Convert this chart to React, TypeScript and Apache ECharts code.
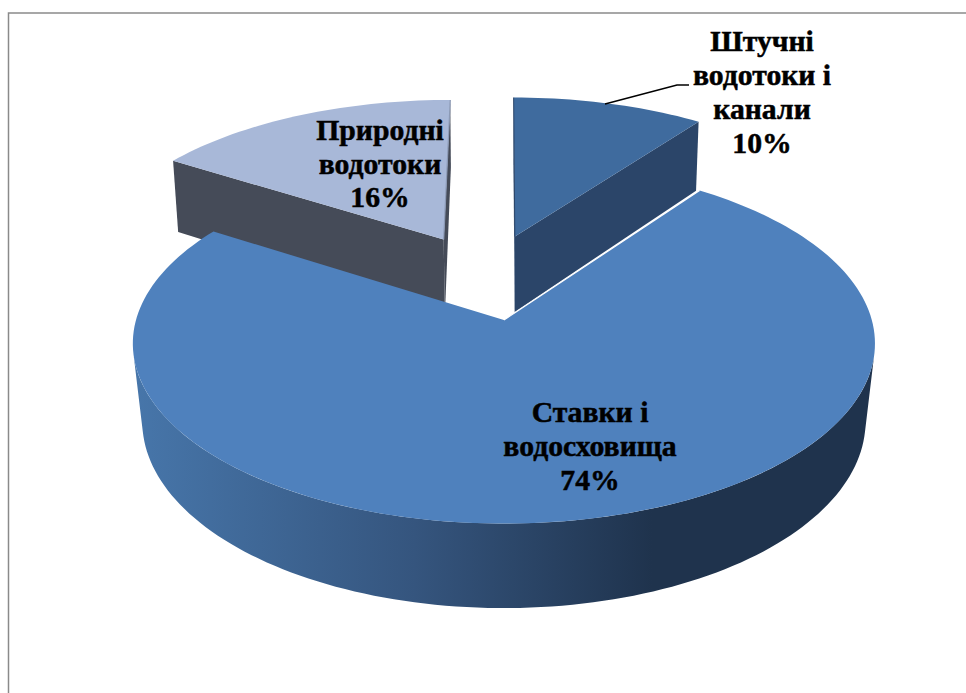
import React, { useEffect, useRef } from "react";
import * as echarts from "echarts";

const names = ["Штучні\nводотоки і\nканали", "Ставки і\nводосховища", "Природні\nводотоки"];
const values = [10, 74, 16];
const topColors = ["#3f6b9e", "#4f81bd", "#a8b8d8"];
const wallColors = ["#2b4569", "", "#454b58"];
const drawLayer = [1, 2, 0];
const labelAnchors = [
  [762, 92],
  [590, 446],
  [380, 163.5],
];
const leaderLine = [
  [605, 104],
  [677, 85],
  [689, 85],
];

const VIEW_TOP = { x0: 504, y0: 320, b: 367.9, a: 177, p: 0.13 };
const VIEW_BOTTOM = { x0: 504, y0: 399, b: 359, a: 183.9, p: 0.12 };
const EXPLODE = 0.26;
const HUB = [-0.049, -0.255];
const FRONT_WALL = [100, 260];

const rad = (d: number) => (d * Math.PI) / 180;

function project(x: number, y: number, bottom: boolean): number[] {
  const v = bottom ? VIEW_BOTTOM : VIEW_TOP;
  const w = 1 - v.p * y;
  return [v.x0 + (v.b * x) / w, v.y0 + (v.a * y) / w];
}

function rim(cx: number, cy: number, from: number, to: number, bottom: boolean): number[][] {
  const pts: number[][] = [];
  const n = Math.max(8, Math.ceil((to - from) / 1.5));
  for (let i = 0; i <= n; i++) {
    const t = rad(from + ((to - from) * i) / n);
    pts.push(project(cx + Math.sin(t), cy - Math.cos(t), bottom));
  }
  return pts;
}

export default function App() {
  const ref = useRef<HTMLDivElement>(null);
  useEffect(() => {
    if (!ref.current) return;
    const chart = echarts.init(ref.current, undefined, { renderer: "svg" });
    const total = values.reduce((s, v) => s + v, 0);
    const bigWall = new echarts.graphic.LinearGradient(0, 0, 1, 0, [
      { offset: 0, color: "#4776aa" },
      { offset: 0.38, color: "#35557e" },
      { offset: 0.7, color: "#1f334d" },
      { offset: 1, color: "#1f334d" },
    ]);

    const renderItem = (params: any, api: any) => {
      const i = params.dataIndex;
      const v = api.value(0) as number;
      let start = 0;
      for (let k = 0; k < i; k++) start += (values[k] / total) * 360;
      const end = start + (v / total) * 360;
      const mid = rad((start + end) / 2);
      const cx = HUB[0] + EXPLODE * Math.sin(mid);
      const cy = HUB[1] - EXPLODE * Math.cos(mid);
      const baseZ = drawLayer[i] * 10;

      const topArc = rim(cx, cy, start, end, false);
      const botArc = rim(cx, cy, start, end, true);
      const apexTop = project(cx, cy, false);
      const apexBot = project(cx, cy, true);

      const children: any[] = [];
      const wallFrom = Math.max(start, FRONT_WALL[0]);
      const wallTo = Math.min(end, FRONT_WALL[1]);
      if (wallTo > wallFrom) {
        children.push({
          type: "polygon",
          z2: baseZ + 1,
          shape: {
            points: [
              ...rim(cx, cy, wallFrom, wallTo, false),
              ...rim(cx, cy, wallFrom, wallTo, true).reverse(),
            ],
          },
          style: { fill: wallColors[i] || bigWall },
          silent: true,
        });
      }
      if (wallColors[i]) {
        children.push(
          {
            type: "polygon",
            z2: baseZ + 2,
            shape: { points: [apexTop, topArc[0], botArc[0], apexBot] },
            style: { fill: wallColors[i] },
            silent: true,
          },
          {
            type: "polygon",
            z2: baseZ + 2,
            shape: { points: [apexTop, topArc[topArc.length - 1], botArc[botArc.length - 1], apexBot] },
            style: { fill: wallColors[i] },
            silent: true,
          },
        );
      }
      children.push({
        type: "polygon",
        z2: baseZ + 3,
        shape: { points: [apexTop, ...topArc] },
        style: { fill: topColors[i] },
        silent: true,
      });
      if (i === 0) {
        children.push({
          type: "polyline",
          z2: baseZ + 4,
          shape: { points: [apexTop, topArc[0]] },
          style: { stroke: "#2b4569", lineWidth: 1, fill: "none" },
          silent: true,
        });
      }
      if (i === 2) {
        children.push({
          type: "polyline",
          z2: baseZ + 4,
          shape: { points: [apexTop, topArc[topArc.length - 1]] },
          style: { stroke: "#8b99b5", lineWidth: 1.2, fill: "none" },
          silent: true,
        });
      }
      if (i === 1) {
        children.push({
          type: "polyline",
          z2: baseZ + 4,
          shape: { points: [apexTop, topArc[0]] },
          style: { stroke: "#ffffff", lineWidth: 1.2, fill: "none" },
          silent: true,
        });
      }
      children.push({
        type: "text",
        z2: 100,
        x: labelAnchors[i][0],
        y: labelAnchors[i][1],
        style: {
          text: `${names[i]}\n${v}%`,
          fill: "#000000",
          stroke: "#000000",
          lineWidth: 0.5,
          font: 'bold 29.7px "Liberation Serif"',
          lineHeight: 33.7,
          align: "center",
          verticalAlign: "middle",
        },
        silent: true,
      });
      return { type: "group", children };
    };

    chart.setOption({
      animation: false,
      backgroundColor: "#ffffff",
      graphic: [
        {
          type: "polyline",
          z: 10,
          shape: {
            points: [
              [8.5, 693],
              [8.5, 13],
              [966, 13],
            ],
          },
          style: { stroke: "#8a8a8a", lineWidth: 1.5, fill: "none" },
          silent: true,
        },
        {
          type: "polyline",
          z: 10,
          shape: { points: leaderLine },
          style: { stroke: "#000000", lineWidth: 1.5, fill: "none" },
          silent: true,
        },
      ],
      series: [
        {
          type: "custom",
          coordinateSystem: "none",
          name: "Водні об'єкти",
          data: values.map((v) => [v]),
          renderItem,
          silent: true,
        },
      ],
    });
    return () => chart.dispose();
  }, []);
  return (
    <div
      ref={ref}
      style={{ position: "fixed", left: 0, top: 0, width: 966, height: 693, background: "#fff" }}
    />
  );
}
